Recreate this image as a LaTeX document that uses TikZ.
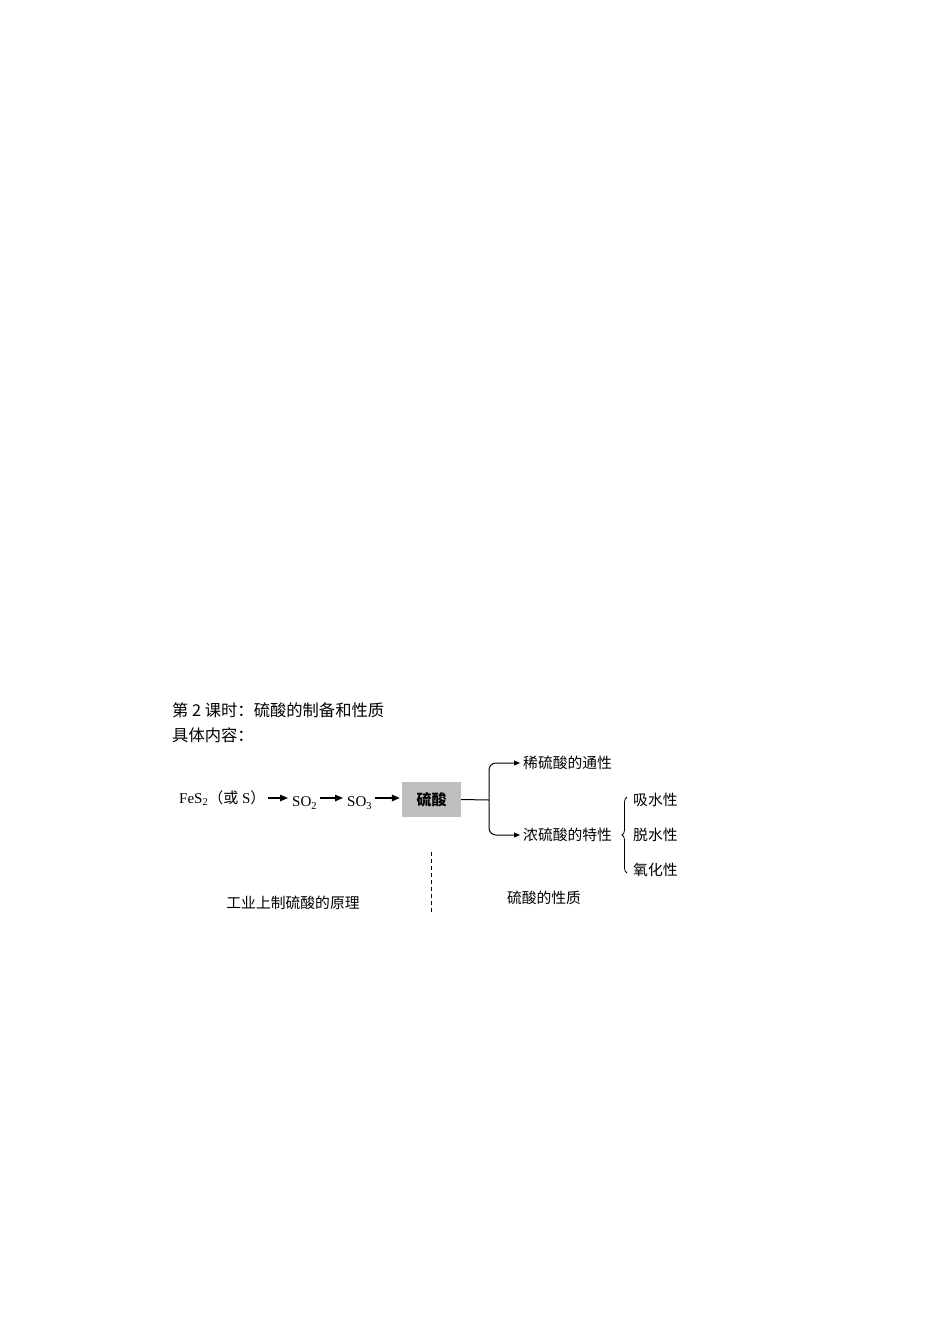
\documentclass[tikz,border=0pt]{standalone}
\usepackage{fontspec}
\setmainfont{Liberation Serif}
\newfontfamily\cjk{Noto Sans CJK SC}
\usetikzlibrary{arrows.meta,decorations.pathreplacing}
\begin{document}
\begin{tikzpicture}[x=1pt,y=-1pt,
  title/.style={inner sep=0pt, anchor=west, font=\cjk\fontsize{16.3}{17}\selectfont},
  lbl/.style={inner sep=0pt, anchor=west, font=\cjk\fontsize{14.8}{15}\selectfont},
  chem/.style={inner sep=0pt, anchor=west, font=\fontsize{15}{15}\selectfont},
  arr/.style={-{Triangle[length=8pt,width=6.5pt]}, line width=1.4pt},
  brarr/.style={-{Triangle[length=6pt,width=5pt]}, line width=1pt},
  ]
\useasboundingbox (0,0) rectangle (950,1344);
% heading
\node[title] (t1) at (172,710) {第 2 课时：硫酸的制备和性质};
\node[title] (t2) at (172,735) {具体内容：};
% production chain
\node[chem] (fes2) at (179,798) {FeS\textsubscript{2}{\cjk （或}~S{\cjk ）}};
\node[chem] (so2) at (292,803) {SO\textsubscript{2}};
\node[chem] (so3) at (347,803) {SO\textsubscript{3}};
\node[fill=black!25, minimum width=59pt, minimum height=35pt, inner sep=0pt,
      font=\cjk\bfseries\fontsize{15}{15}\selectfont] (acid) at (431.5,799.5) {硫酸};
\draw[arr] ([xshift=2pt]fes2.east) -- ([xshift=-4pt]fes2.east -| so2.west);
\draw[arr] ([xshift=3pt]so2.east |- fes2.east) -- ([xshift=-4pt]fes2.east -| so3.west);
\draw[arr] ([xshift=3pt]so3.east |- fes2.east) -- ([xshift=-2pt]fes2.east -| acid.west);
% properties
\coordinate (j) at (489,800);
\node[lbl] (dil) at (523,763) {稀硫酸的通性};
\node[lbl] (conc) at (523,835) {浓硫酸的特性};
\draw[line width=1pt] (acid.east) -- (j);
\draw[brarr, rounded corners=7pt] (j) |- ([xshift=-3pt]dil.west);
\draw[brarr, rounded corners=7pt] (j) |- ([xshift=-3pt]conc.west);
\node[lbl] (p1) at (633,800) {吸水性};
\node[lbl] (p2) at (633,835) {脱水性};
\node[lbl] (p3) at (633,870) {氧化性};
\coordinate (bb) at (627,873);
\coordinate (bt) at (627,797);
\draw[line width=0.8pt, decorate, decoration={brace, amplitude=5pt}] (bb) -- (bt);
% separator and captions
\coordinate (d1) at (431,852);
\coordinate (d2) at (431,914);
\draw[dashed, line width=0.8pt, dash pattern=on 4pt off 3pt] (d1) -- (d2);
\node[lbl, anchor=center] (c1) at (293,903) {工业上制硫酸的原理};
\node[lbl, anchor=center] (c2) at (544,898) {硫酸的性质};
\end{tikzpicture}
\end{document}
